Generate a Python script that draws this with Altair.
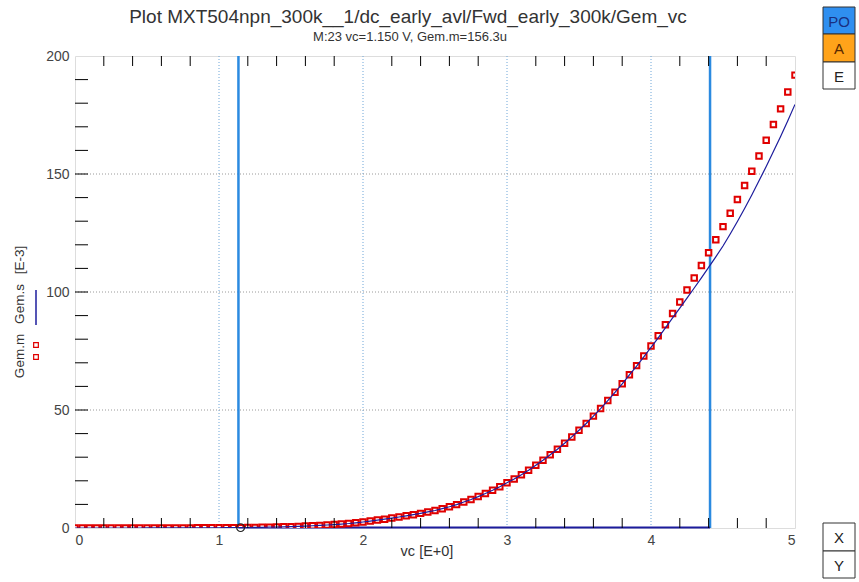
import altair as alt
import pandas as pd

# ---------------- data ----------------
vc = [round(i * 0.05, 2) for i in range(101)]

gem_m = [0.001, 0.001, 0.002, 0.002, 0.003, 0.004, 0.005, 0.006, 0.008, 0.010,
         0.013, 0.016, 0.020, 0.025, 0.031, 0.039, 0.048, 0.060, 0.074, 0.090,
         0.105, 0.120, 0.138, 0.156, 0.19, 0.23, 0.28, 0.34, 0.41, 0.49,
         0.58, 0.69, 0.81, 0.95, 1.10, 1.27, 1.46, 1.67, 1.90, 2.20,
         2.55, 2.95, 3.35, 3.75, 4.20, 4.65, 5.15, 5.65, 6.20, 6.80,
         7.40, 8.20, 9.00, 9.90, 11.00, 12.10, 13.30, 14.60, 16.00, 17.50,
         19.2, 20.8, 22.6, 24.5, 26.6, 28.7, 31.0, 33.4, 35.9, 38.6,
         41.4, 44.3, 47.4, 50.6, 54.0, 57.5, 61.1, 64.9, 68.8, 72.9,
         77.1, 81.5, 86.1, 90.9, 95.8, 100.8, 105.9, 111.2, 116.6, 122.1,
         127.7, 133.4, 139.2, 145.1, 151.2, 157.6, 164.3, 171.0, 177.6, 184.7,
         191.9]

gem_s = [0.001, 0.001, 0.002, 0.002, 0.003, 0.004, 0.005, 0.006, 0.008, 0.010,
         0.013, 0.016, 0.020, 0.025, 0.031, 0.039, 0.048, 0.060, 0.074, 0.090,
         0.105, 0.120, 0.138, 0.156, 0.19, 0.23, 0.28, 0.34, 0.41, 0.49,
         0.58, 0.69, 0.81, 0.95, 1.10, 1.27, 1.46, 1.67, 1.90, 2.20,
         2.55, 2.95, 3.35, 3.75, 4.20, 4.65, 5.15, 5.65, 6.20, 6.80,
         7.40, 8.20, 9.00, 9.90, 11.00, 12.10, 13.30, 14.60, 16.00, 17.50,
         19.2, 20.8, 22.6, 24.5, 26.6, 28.7, 31.0, 33.4, 35.9, 38.6,
         41.4, 44.3, 47.4, 50.6, 54.0, 57.5, 61.1, 64.9, 68.6, 72.5,
         76.5, 80.6, 84.8, 89.0, 93.2, 97.4, 101.7, 106.0, 110.4, 114.9,
         119.5, 124.6, 129.9, 135.4, 141.1, 147.1, 153.2, 159.5, 165.9, 172.6,
         179.5]

x_labels = [0, 1, 2, 3, 4, 5]
y_labels = [0, 50, 100, 150, 200]
x_grid = [1, 2, 3, 4]
y_grid = [50, 100, 150]
x_minor = [0.2, 0.4, 0.6, 0.8, 1.2, 1.4, 1.6, 1.8, 2.2, 2.4, 2.6, 2.8,
           3.2, 3.4, 3.6, 3.8, 4.2, 4.4, 4.6, 4.8]
y_minor = [10, 20, 30, 40, 50, 60, 70, 80, 90, 100, 110, 120, 130, 140,
           150, 160, 170, 180, 190]
cursor_lines = [1.135, 4.41]
marker_vc = [1.15]
marker_val = [0.156]

title = "Plot MXT504npn_300k__1/dc_early_avl/Fwd_early_300k/Gem_vc"
subtitle = "M:23 vc=1.150  V, Gem.m=156.3u"

# ---------------- layout ----------------
W, H = 720, 472
FONT = "Liberation Sans"
NAVY = "#1c1c9c"
RED = "#e00000"
CURSOR = "#2b8ae0"

df = pd.DataFrame({"vc": vc, "m": gem_m, "s": gem_s})

xs = alt.Scale(domain=[0, 5], nice=False, zero=False)
ys = alt.Scale(domain=[0, 200], nice=False, zero=False)
x_axis = alt.Axis(values=x_labels, title=None, ticks=False, domain=False, grid=False,
                  labelFontSize=14, labelColor="#444", labelPadding=5, labelFont=FONT)
y_axis = alt.Axis(values=y_labels, title=None, ticks=False, domain=False, grid=False,
                  labelFontSize=14, labelColor="#444", labelPadding=6, labelFont=FONT)


def X(field):
    return alt.X(field, type="quantitative", scale=xs, axis=x_axis)


def Y(field):
    return alt.Y(field, type="quantitative", scale=ys, axis=y_axis)


one = pd.DataFrame({"k": [0]})

vgrid = alt.Chart(pd.DataFrame({"g": x_grid})).mark_rule(
    color="#6fa6d8", strokeDash=[1, 2], strokeWidth=1
).encode(x=X("g"), y=alt.value(0), y2=alt.value(H))

hgrid = alt.Chart(pd.DataFrame({"g": y_grid})).mark_rule(
    color="#9a9a9a", strokeDash=[1, 2], strokeWidth=1
).encode(y=Y("g"), x=alt.value(0), x2=alt.value(W))

cursors = alt.Chart(pd.DataFrame({"c": cursor_lines})).mark_rule(
    color=CURSOR, strokeWidth=2.5
).encode(x=X("c"), y=alt.value(0), y2=alt.value(H))

span = alt.Chart(pd.DataFrame({"a": [cursor_lines[0]], "b": [cursor_lines[1]]})).mark_rule(
    color=NAVY, strokeWidth=2
).encode(x=X("a"), x2="b:Q", y=alt.value(H - 0.5))

points = alt.Chart(df).mark_point(
    shape="square", size=30, filled=True, fill="white", stroke=RED,
    strokeWidth=2, opacity=1, clip=True
).encode(x=X("vc"), y=Y("m"))

line = alt.Chart(df).mark_line(color=NAVY, strokeWidth=1.2, clip=True).encode(
    x=X("vc"), y=Y("s"))

marker = alt.Chart(pd.DataFrame({"x": marker_vc, "y": marker_val})).mark_point(
    shape="circle", size=60, filled=False, stroke="#222", strokeWidth=1.2, opacity=1
).encode(x=X("x"), y=Y("y"))

xt = pd.DataFrame({"t": x_minor})
bottom_ticks = alt.Chart(xt).mark_rule(color="black").encode(
    x=X("t"), y=alt.value(H), y2=alt.value(H - 10))
top_ticks = alt.Chart(xt).mark_rule(color="black").encode(
    x=X("t"), y=alt.value(0), y2=alt.value(10))
left_ticks = alt.Chart(pd.DataFrame({"t": y_minor})).mark_rule(color="black").encode(
    y=Y("t"), x=alt.value(0), x2=alt.value(13))


def text(s, x, y, size, color="#333", angle=0):
    kw = dict(fontSize=size, color=color, font=FONT, align="center", baseline="middle")
    if angle:
        kw["angle"] = angle
    return alt.Chart(pd.DataFrame({"t": [s]})).mark_text(**kw).encode(
        text="t:N", x=alt.value(x), y=alt.value(y))


t_title = text(title, 333, -39, 19)
t_sub = text(subtitle, 335, -19, 13)
t_xlab = text("vc  [E+0]", 352, H + 24, 14.5)
t_gm = text("Gem.m", -55, 300, 13.5, angle=270)
t_gs = text("Gem.s", -55, 248, 13.5, angle=270)
t_e3 = text("[E-3]", -55, 204, 13.5, angle=270)

leg_line = alt.Chart(one).mark_rule(color=NAVY, strokeWidth=1.5).encode(
    x=alt.value(-39), y=alt.value(234), y2=alt.value(269))
leg_sq = alt.Chart(pd.DataFrame({"yy": [289, 301]})).mark_point(
    shape="square", size=22, filled=False, stroke=RED, strokeWidth=1.2, opacity=1
).encode(x=alt.value(-39), y=alt.Y("yy:Q", scale=None, axis=None))


def box(label, x1, x2, y1, y2, fill, tcolor):
    r = alt.Chart(one).mark_rect(fill=fill, stroke="#333", strokeWidth=1).encode(
        x=alt.value(x1), x2=alt.value(x2), y=alt.value(y1), y2=alt.value(y2))
    t = alt.Chart(pd.DataFrame({"t": [label]})).mark_text(
        fontSize=15, color=tcolor, font=FONT, align="center", baseline="middle"
    ).encode(text="t:N", x=alt.value((x1 + x2) / 2), y=alt.value((y1 + y2) / 2 + 1))
    return [r, t]


boxes = []
boxes += box("PO", 748, 780, -49, -22, "#2f8ff0", "#1a2f80")
boxes += box("A", 748, 780, -22, 6, "#ffa31a", "#5a2a00")
boxes += box("E", 748, 780, 6, 33, "white", "#222")
boxes += box("X", 748, 780, H - 5, H + 23, "white", "#222")
boxes += box("Y", 748, 780, H + 23, H + 50, "white", "#222")

chart = alt.layer(
    vgrid, hgrid, cursors, span, points, line, marker,
    bottom_ticks, top_ticks, left_ticks,
    t_title, t_sub, t_xlab, t_gm, t_gs, t_e3, leg_line, leg_sq,
    *boxes
).properties(
    width=W, height=H,
    autosize=alt.AutoSizeParams(type="none"),
    padding={"left": 75, "top": 56, "right": 64, "bottom": 54},
).configure_view(
    stroke="black", strokeWidth=1
).configure(
    background="white", font=FONT
)

chart.save("out.html", embed_options={"renderer": "svg", "actions": False})
